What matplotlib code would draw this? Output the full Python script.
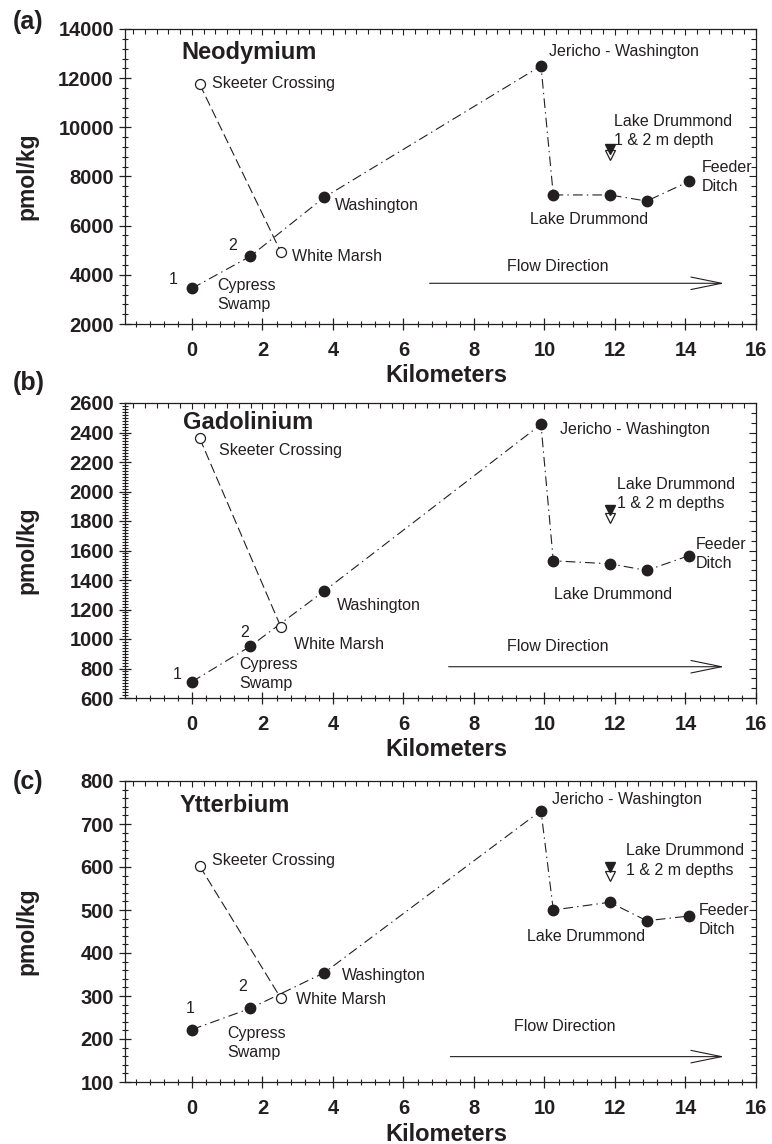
import matplotlib
matplotlib.use('Agg')
import matplotlib.pyplot as plt
from matplotlib.ticker import MultipleLocator

plt.rcParams['font.family'] = ['Liberation Sans', 'DejaVu Sans']
plt.rcParams['lines.scale_dashes'] = False

# ---------------- data ----------------
km_main = [0, 1.65, 3.75, 9.9, 10.25, 11.85, 12.9, 14.1]
km_side = [0.22, 2.52]          # Skeeter Crossing, White Marsh
km_depth = 11.85                # Lake Drummond 1 & 2 m depth

nd_main = [3450, 4750, 7150, 12500, 7250, 7250, 7000, 7800]
nd_side = [11750, 4930]
nd_depth = [9120, 8880]

gd_main = [710, 950, 1325, 2455, 1530, 1510, 1465, 1565]
gd_side = [2360, 1083]
gd_depth = [1873, 1822]

yb_main = [222, 271, 354, 731, 500, 518, 475, 486]
yb_side = [602, 295]
yb_depth = [601, 578]

elements = ['Neodymium', 'Gadolinium', 'Ytterbium']
panel_tags = ['(a)', '(b)', '(c)']
x_ticks = [0, 2, 4, 6, 8, 10, 12, 14, 16]

C = '#231f20'

fig = plt.figure(figsize=(7.72, 11.44), dpi=100)

L = 125 / 772
W = (756 - 125) / 772
boxes = [(1 - 324 / 1144, 295 / 1144),
         (1 - 698 / 1144, 295 / 1144),
         (1 - 1082 / 1144, 301 / 1144)]

panels = [
    dict(main=nd_main, side=nd_side, depth=nd_depth, ylim=(2000, 14000), major=2000, minor=400,
         rminor=400, depth_text='Lake Drummond\n1 & 2 m depth',
         pos=dict(title=(-0.29, 13050), skeeter=(0.56, 11800), wash=(4.05, 6840), white=(2.84, 4740),
                  one=(-0.67, 3790), two=(1.03, 5175), cyp=(0.72, 3180), jer=(10.14, 13080),
                  ld=(11.96, 9850), feed=(14.46, 7975), ldb=(9.6, 6233), flow=(10.37, 4330),
                  arrow=(6.74, 15.1, 3656))),
    dict(main=gd_main, side=gd_side, depth=gd_depth, ylim=(600, 2600), major=200, minor=20,
         rminor=200 / 3, depth_text='Lake Drummond\n1 & 2 m depths',
         pos=dict(title=(-0.26, 2467), skeeter=(0.77, 2277), wash=(4.1, 1224), white=(2.89, 964),
                  one=(-0.55, 756), two=(1.36, 1045), cyp=(1.34, 764), jer=(10.44, 2417),
                  ld=(12.05, 1984), feed=(14.28, 1575), ldb=(10.26, 1303), flow=(10.37, 948),
                  arrow=(7.28, 15.1, 812))),
    dict(main=yb_main, side=yb_side, depth=yb_depth, ylim=(100, 800), major=100, minor=20,
         rminor=20, depth_text='Lake Drummond\n1 & 2 m depths',
         pos=dict(title=(-0.34, 744), skeeter=(0.56, 616), wash=(4.24, 347), white=(2.95, 292),
                  one=(-0.18, 271), two=(1.31, 323), cyp=(1.0, 191), jer=(10.22, 756),
                  ld=(12.31, 615), feed=(14.37, 476), ldb=(9.5, 438), flow=(10.57, 229),
                  arrow=(7.33, 15.1, 159))),
]

tag_y = [22, 383, 782]
lab_fs = 11.5
ls_multi = 1.35

for i, p in enumerate(panels):
    y0, h = boxes[i]
    ax = fig.add_axes([L, y0, W, h])
    ax.set_xlim(-1.9, 16)
    ax.set_ylim(*p['ylim'])
    for s in ax.spines.values():
        s.set_linewidth(0.9)
        s.set_color(C)

    # main dash-dot series
    ax.plot(km_main, p['main'], color=C, lw=0.8, linestyle=(0, (7, 3, 1, 3)),
            marker='o', ms=7.5, mfc=C, mec=C, zorder=3)
    # side branch (dashed)
    ax.plot(km_side, p['side'], color=C, lw=0.8, linestyle=(0, (7, 3)),
            marker='o', ms=7.2, mfc='white', mec=C, mew=0.9, zorder=3)
    # depth triangles
    ax.plot([km_depth], [p['depth'][0]], marker='v', ms=7, mfc=C, mec=C, ls='none', zorder=4)
    ax.plot([km_depth], [p['depth'][1]], marker='v', ms=7, mfc='white', mec=C, mew=0.9, ls='none', zorder=3)

    # ticks
    ax.set_xticks(x_ticks)
    ax.xaxis.set_minor_locator(MultipleLocator(0.4))
    ax.yaxis.set_major_locator(MultipleLocator(p['major']))
    ax.yaxis.set_minor_locator(MultipleLocator(p['minor']))
    ax.tick_params(which='major', direction='inout', length=8, width=0.9, color=C,
                   labelsize=14.5, labelcolor=C, top=False, right=False)
    ax.tick_params(axis='x', which='major', pad=8)
    ax.tick_params(axis='y', which='major', pad=4)
    ax.tick_params(which='minor', direction='inout', length=4.5, width=0.8, color=C,
                   top=False, right=False)
    for lab in ax.get_xticklabels() + ax.get_yticklabels():
        lab.set_fontweight('bold')

    top = ax.secondary_xaxis('top')
    top.xaxis.set_major_locator(MultipleLocator(2))
    top.xaxis.set_minor_locator(MultipleLocator(1 / 3))
    top.tick_params(which='major', direction='in', length=4, width=0.8, color=C, labeltop=False)
    top.tick_params(which='minor', direction='in', length=3.5, width=0.8, color=C)
    top.spines['top'].set_visible(False)

    right = ax.secondary_yaxis('right')
    right.yaxis.set_major_locator(MultipleLocator(p['major']))
    right.yaxis.set_minor_locator(MultipleLocator(p['rminor']))
    right.tick_params(which='major', direction='in', length=5, width=0.8, color=C, labelright=False)
    right.tick_params(which='minor', direction='in', length=3.5, width=0.8, color=C)
    right.spines['right'].set_visible(False)

    # axis labels
    ax.text(0.509, -0.175, 'Kilometers', transform=ax.transAxes, ha='center', va='center',
            fontsize=17, fontweight='bold', color=C)
    ax.text(-0.155, 0.5, 'pmol/kg', transform=ax.transAxes, ha='center', va='center',
            rotation=90, fontsize=16.5, fontweight='bold', color=C)

    q = p['pos']
    ax.text(*q['title'], elements[i], fontsize=17, fontweight='bold', color=C, ha='left', va='center')
    ax.text(*q['skeeter'], 'Skeeter Crossing', fontsize=lab_fs, color=C, ha='left', va='center')
    ax.text(*q['wash'], 'Washington', fontsize=lab_fs, color=C, ha='left', va='center')
    ax.text(*q['white'], 'White Marsh', fontsize=lab_fs, color=C, ha='left', va='center')
    ax.text(*q['one'], '1', fontsize=lab_fs, color=C, ha='left', va='center')
    ax.text(*q['two'], '2', fontsize=lab_fs, color=C, ha='left', va='center')
    ax.text(*q['cyp'], 'Cypress\nSwamp', fontsize=lab_fs, color=C, ha='left', va='center', linespacing=ls_multi)
    ax.text(*q['jer'], 'Jericho - Washington', fontsize=lab_fs, color=C, ha='left', va='center')
    ax.text(*q['ld'], p['depth_text'], fontsize=lab_fs, color=C, ha='left', va='center', linespacing=ls_multi)
    ax.text(*q['feed'], 'Feeder\nDitch', fontsize=lab_fs, color=C, ha='left', va='center', linespacing=ls_multi)
    ax.text(*q['ldb'], 'Lake Drummond', fontsize=lab_fs, color=C, ha='left', va='center')
    ax.text(*q['flow'], 'Flow Direction', fontsize=lab_fs, color=C, ha='center', va='center')
    x0, x1, ya = q['arrow']
    ax.annotate('', xy=(x1, ya), xytext=(x0, ya),
                arrowprops=dict(arrowstyle='->,head_length=2.2,head_width=0.45', lw=0.8, color=C,
                                shrinkA=0, shrinkB=0, mutation_scale=10))

    fig.text(13 / 772, 1 - tag_y[i] / 1144, panel_tags[i], fontsize=18, fontweight='bold',
             color=C, ha='left', va='center')

fig.savefig('out.png', dpi=100)
